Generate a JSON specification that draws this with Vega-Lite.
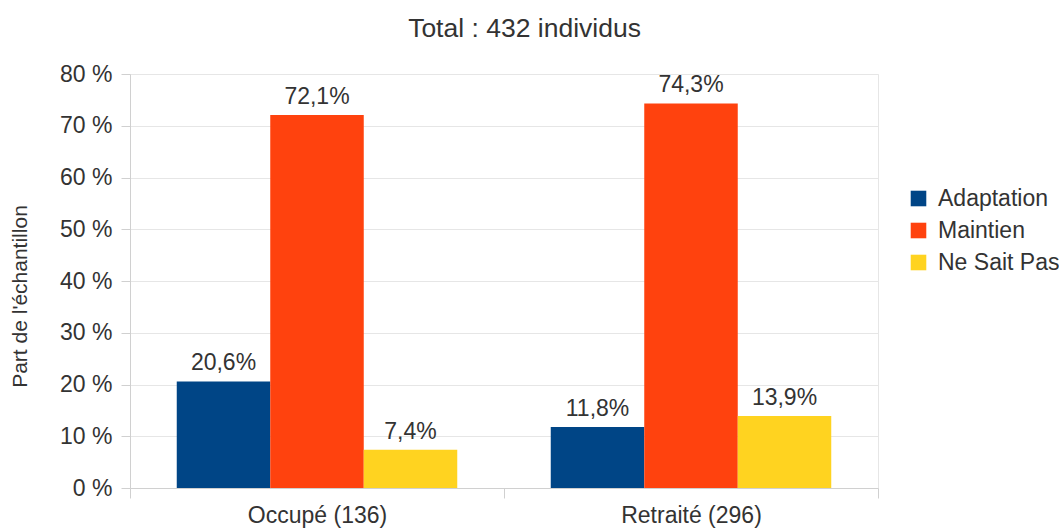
{
  "$schema": "https://vega.github.io/schema/vega-lite/v6.json",
  "autosize": {"type": "none"},
  "padding": {"left": 130, "top": 74, "right": 181, "bottom": 43},
  "width": 748,
  "height": 414,
  "title": {
    "text": "Total : 432 individus",
    "font": "Liberation Sans",
    "fontSize": 26.5,
    "fontWeight": "normal",
    "color": "#333333",
    "anchor": "middle",
    "frame": "bounds",
    "offset": 21,
    "dx": -10
  },
  "data": {
    "values": [
      {"statut": "Occupé (136)", "reponse": "Adaptation", "part": 0.206},
      {"statut": "Occupé (136)", "reponse": "Maintien", "part": 0.721},
      {"statut": "Occupé (136)", "reponse": "Ne Sait Pas", "part": 0.074},
      {"statut": "Retraité (296)", "reponse": "Adaptation", "part": 0.118},
      {"statut": "Retraité (296)", "reponse": "Maintien", "part": 0.743},
      {"statut": "Retraité (296)", "reponse": "Ne Sait Pas", "part": 0.139}
    ]
  },
  "encoding": {
    "x": {
      "field": "statut",
      "type": "nominal",
      "sort": null,
      "scale": {"paddingInner": 0, "paddingOuter": 0},
      "axis": {
        "title": null,
        "labelAngle": 0,
        "labelFont": "Liberation Sans",
        "labelFontSize": 23,
        "labelColor": "#333333",
        "labelPadding": 6,
        "tickBand": "extent",
        "ticks": true,
        "tickSize": 10,
        "tickColor": "#d0d0d0",
        "domainColor": "#d0d0d0",
        "grid": false
      }
    },
    "xOffset": {"field": "reponse", "type": "nominal", "sort": null, "scale": {"paddingInner": 0, "paddingOuter": 0.5}},
    "y": {
      "field": "part",
      "type": "quantitative",
      "scale": {"domain": [0, 0.8], "nice": false},
      "axis": {
        "values": [0, 0.1, 0.2, 0.3, 0.4, 0.5, 0.6, 0.7, 0.8],
        "format": ".0%",
        "labelExpr": "replace(datum.label, '%', ' %')",
        "labelFont": "Liberation Sans",
        "labelFontSize": 23,
        "labelColor": "#333333",
        "labelPadding": 9,
        "tickSize": 9,
        "tickColor": "#d0d0d0",
        "domainColor": "#d0d0d0",
        "gridColor": "#e6e6e6",
        "title": "Part de l'échantillon",
        "titleFont": "Liberation Sans",
        "titleFontSize": 21,
        "titleFontWeight": "normal",
        "titleColor": "#333333",
        "titleX": -110,
        "titleY": 222,
        "titleAngle": -90,
        "titleAlign": "center",
        "titleBaseline": "middle"
      }
    }
  },
  "layer": [
    {
      "mark": {"type": "bar"},
      "encoding": {
        "color": {
          "field": "reponse",
          "type": "nominal",
          "sort": null,
          "scale": {"domain": ["Adaptation", "Maintien", "Ne Sait Pas"], "range": ["#004586", "#ff420e", "#ffd320"]},
          "legend": {
            "title": null,
            "orient": "none",
            "legendX": 777,
            "legendY": 113,
            "padding": 0,
            "symbolType": "square",
            "symbolSize": 243,
            "symbolStrokeWidth": 0,
            "labelFont": "Liberation Sans",
            "labelFontSize": 23,
            "labelColor": "#333333",
            "labelOffset": 8,
            "rowPadding": 8
          }
        }
      }
    },
    {
      "mark": {"type": "text", "baseline": "alphabetic", "dy": -11, "font": "Liberation Sans", "fontSize": 23, "color": "#333333"},
      "encoding": {
        "text": {"field": "part", "type": "quantitative", "format": ".1%"}
      }
    }
  ],
  "config": {
    "locale": {"number": {"decimal": ",", "thousands": "\u00a0", "grouping": [3], "currency": ["", " €"]}},
    "view": {"stroke": "#e6e6e6"},
    "background": "white"
  }
}
